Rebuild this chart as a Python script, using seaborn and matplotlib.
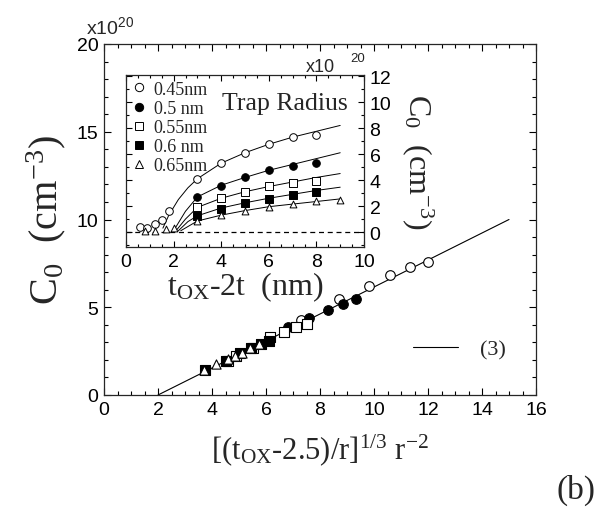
import numpy as np
import pandas as pd
import matplotlib
matplotlib.use("Agg")
import matplotlib.pyplot as plt
from matplotlib.lines import Line2D
from matplotlib.ticker import MultipleLocator
import seaborn as sns

# ---------------- data ----------------
labels = ["0.45nm", "0.5 nm", "0.55nm", "0.6 nm", "0.65nm"]
markers = ["o", "o", "s", "s", "^"]
faces = ["white", "black", "white", "black", "white"]

# main plot (scaled variable vs C0, x1e20)
main_x_045 = [7.3, 8.7, 9.8, 10.6, 11.35, 12.0]
main_y_045 = [4.3, 5.45, 6.2, 6.85, 7.3, 7.6]
main_x_050 = [6.8, 7.6, 8.3, 8.85, 9.35]
main_y_050 = [3.85, 4.4, 4.85, 5.2, 5.45]
main_x_055 = [4.6, 4.9, 5.5, 6.15, 6.65, 7.1, 7.5]
main_y_055 = [1.95, 2.2, 2.7, 3.3, 3.6, 3.85, 4.05]
main_x_060 = [3.75, 4.5, 5.05, 5.45, 5.8, 6.1]
main_y_060 = [1.4, 1.95, 2.4, 2.65, 2.9, 3.1]
main_x_065 = [3.7, 4.15, 4.6, 4.85, 5.1, 5.4, 5.75]
main_y_065 = [1.45, 1.75, 2.05, 2.25, 2.4, 2.65, 2.9]
fit_x = [2.0, 15.0]
fit_y = [0.0, 10.0]

# inset (tOX-2t vs C0, x1e20)
in_x_045 = [0.6, 0.9, 1.2, 1.5, 1.8, 3, 4, 5, 6, 7, 8]
in_y_045 = [0.4, 0.3, 0.6, 0.95, 1.6, 4.1, 5.3, 6.1, 6.8, 7.3, 7.5]
in_x_050 = [3, 4, 5, 6, 7, 8]
in_y_050 = [2.7, 3.55, 4.2, 4.75, 5.1, 5.3]
in_x_055 = [3, 4, 5, 6, 7, 8]
in_y_055 = [1.95, 2.6, 3.1, 3.55, 3.8, 3.95]
in_x_060 = [3, 4, 5, 6, 7, 8]
in_y_060 = [1.25, 1.8, 2.25, 2.55, 2.85, 3.05]
in_x_065 = [0.8, 1.2, 1.7, 2.0, 3, 4, 5, 6, 7, 8, 9]
in_y_065 = [0.1, 0.05, 0.2, 0.3, 0.85, 1.3, 1.65, 1.9, 2.15, 2.35, 2.45]

cur_x_045 = [1.55, 1.8, 2.2, 2.6, 3, 4, 5, 6, 7, 8, 9]
cur_y_045 = [0.3, 1.3, 2.5, 3.4, 4.1, 5.3, 6.1, 6.75, 7.3, 7.75, 8.2]
cur_x_050 = [2.0, 2.5, 3, 4, 5, 6, 7, 8, 9]
cur_y_050 = [0.1, 1.6, 2.7, 3.6, 4.2, 4.75, 5.2, 5.65, 6.1]
cur_x_055 = [2.1, 2.5, 3, 4, 5, 6, 7, 8, 9]
cur_y_055 = [0.1, 1.0, 1.9, 2.6, 3.1, 3.5, 3.85, 4.2, 4.5]
cur_x_060 = [2.2, 2.6, 3, 4, 5, 6, 7, 8, 9]
cur_y_060 = [0.1, 0.8, 1.25, 1.85, 2.25, 2.6, 2.9, 3.2, 3.45]
cur_x_065 = [2.3, 3, 4, 5, 6, 7, 8, 9]
cur_y_065 = [0.1, 0.85, 1.3, 1.65, 1.95, 2.15, 2.35, 2.55]

main_xs = [main_x_045, main_x_050, main_x_055, main_x_060, main_x_065]
main_ys = [main_y_045, main_y_050, main_y_055, main_y_060, main_y_065]
in_xs = [in_x_045, in_x_050, in_x_055, in_x_060, in_x_065]
in_ys = [in_y_045, in_y_050, in_y_055, in_y_060, in_y_065]
cur_xs = [cur_x_045, cur_x_050, cur_x_055, cur_x_060, cur_x_065]
cur_ys = [cur_y_045, cur_y_050, cur_y_055, cur_y_060, cur_y_065]

# ---------------- style ----------------
sns.set_theme(style="ticks")
plt.rcParams["font.family"] = ["Liberation Sans", "DejaVu Sans"]
plt.rcParams["mathtext.default"] = "regular"
plt.rcParams["axes.linewidth"] = 0.9
SERIF = ["Liberation Serif", "DejaVu Serif"]
SANS = ["Liberation Sans", "DejaVu Sans"]

fig = plt.figure(figsize=(5.98, 5.10), dpi=100)
W, H = 598, 510
ax = fig.add_axes([104 / W, 1 - 396 / H, 432 / W, 351 / H])
ins = fig.add_axes([126 / W, 1 - 248 / H, 238 / W, 172 / H])

# main
for i in range(5):
    df = pd.DataFrame({"x": main_xs[i], "y": main_ys[i]})
    sns.scatterplot(data=df, x="x", y="y", ax=ax, marker=markers[i],
                    color=faces[i], edgecolor="black", linewidth=0.8,
                    s=48 if markers[i] != "^" else 44, legend=False, zorder=3)
sns.lineplot(x=fit_x, y=fit_y, ax=ax, color="black", lw=0.8, label="(3)", zorder=2)
ax.set_xlim(0, 16)
ax.set_ylim(0, 20)
ax.xaxis.set_major_locator(MultipleLocator(2))
ax.xaxis.set_minor_locator(MultipleLocator(0.5))
ax.yaxis.set_major_locator(MultipleLocator(5))
ax.yaxis.set_minor_locator(MultipleLocator(1))
ax.tick_params(which="both", direction="in", top=True, right=True, labelsize=14,
               colors="black", width=0.8)
ax.tick_params(which="major", length=5, pad=4)
ax.tick_params(which="minor", length=3)
ax.set_xlabel(r"[(t$_{OX}$-2.5)/r]$^{1/3}$ r$^{-2}$", family=SERIF, fontsize=22, labelpad=10)
ax.set_ylabel(r"C$_0$  (cm$^{-3}$)", family=SERIF, fontsize=29, labelpad=6)
leg = ax.legend(loc="center left", bbox_to_anchor=(0.67, 0.13), frameon=False,
                prop={"family": SERIF, "size": 16}, handlelength=2.0, handletextpad=1.0)

# inset
ins.axhline(0, color="black", lw=0.9, ls=(0, (4, 3)), zorder=1)
for i in range(5):
    sns.lineplot(x=cur_xs[i], y=cur_ys[i], ax=ins, color="black", lw=0.7, zorder=2)
    df = pd.DataFrame({"x": in_xs[i], "y": in_ys[i]})
    sns.scatterplot(data=df, x="x", y="y", ax=ins, marker=markers[i],
                    color=faces[i], edgecolor="black", linewidth=0.7,
                    s=30 if markers[i] != "^" else 24, legend=False, zorder=3)
ins.set_xlim(0, 10)
ins.set_ylim(-1.15, 12.08)
ins.xaxis.set_major_locator(MultipleLocator(2))
ins.xaxis.set_minor_locator(MultipleLocator(0.5))
ins.yaxis.set_major_locator(MultipleLocator(2))
ins.yaxis.set_minor_locator(MultipleLocator(1))
ins.yaxis.tick_right()
ins.yaxis.set_label_position("right")
ins.tick_params(which="both", direction="in", top=True, left=True, right=True,
                labelleft=False, labelright=True, labelsize=14, colors="black", width=0.8)
ins.tick_params(which="major", length=4, pad=4)
ins.tick_params(which="minor", length=2.5)
ins.set_xlabel(r"t$_{OX}$-2t  (nm)", family=SERIF, fontsize=23, labelpad=0)
ins.set_ylabel(r"C$_0$  (cm$^{-3}$)", family=SERIF, fontsize=23, rotation=270, labelpad=32)

handles = [Line2D([], [], marker=markers[i], ls="none", markerfacecolor=faces[i],
                  markeredgecolor="black", markersize=6 if markers[i] != "^" else 5.5,
                  markeredgewidth=0.7) for i in range(5)]
ins.legend(handles, labels, loc="upper left", bbox_to_anchor=(-0.02, 1.03), frameon=False,
           prop={"family": SERIF, "size": 13}, handlelength=0.8, handletextpad=0.4,
           labelspacing=0.12, borderaxespad=0.2)
ins.text(0.405, 0.84, "Trap Radius", transform=ins.transAxes, family=SERIF,
         fontsize=18.5, va="center", ha="left")

fig.text(86 / W, 1 - 27 / H, r"x10$^{20}$", family=SANS, fontsize=14, va="center")
fig.text(306 / W, 1 - 68 / H, "x10", family=SANS, fontsize=13, va="center")
fig.text(350 / W, 1 - 59 / H, "20", family=SANS, fontsize=9.5, va="center")
fig.text(576 / W, 1 - 490 / H, "(b)", family=SERIF, fontsize=24, va="center", ha="center")

fig.savefig("out.png", dpi=100, facecolor="white")
